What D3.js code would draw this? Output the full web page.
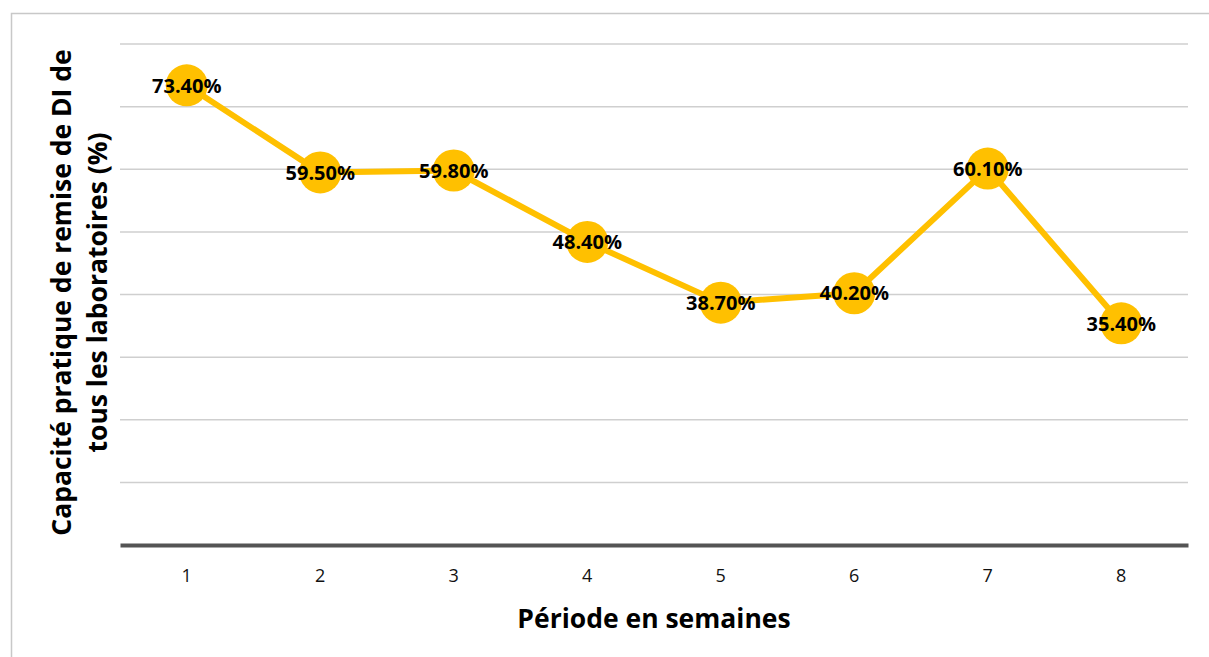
<!DOCTYPE html>
<html>
<head>
<meta charset="utf-8">
<script src="https://cdn.jsdelivr.net/npm/d3@7"></script>
<style>
  body { margin: 0; background: #fff; }
  svg { display: block; font-family: "Open Sans", "Noto Sans", sans-serif; }
</style>
</head>
<body>
<div id="chart"></div>
<script>
// data
const weeks = ['1', '2', '3', '4', '5', '6', '7', '8'];
const capacity = [73.4, 59.5, 59.8, 48.4, 38.7, 40.2, 60.1, 35.4];
const gridTicks = [10, 20, 30, 40, 50, 60, 70, 80];

const W = 1209, H = 657;
const margin = { top: 44, right: 21, bottom: 112, left: 120 };
const width = W - margin.left - margin.right;
const height = H - margin.top - margin.bottom;
const font = '"Open Sans", "Noto Sans", sans-serif';

const svg = d3.select('#chart').append('svg')
    .attr('width', W)
    .attr('height', H);

// outer frame
svg.append('rect')
    .attr('x', 11.5).attr('y', 13.5)
    .attr('width', W).attr('height', H)
    .attr('fill', 'none')
    .attr('stroke', '#c8c8c8')
    .attr('stroke-width', 1.5);

const g = svg.append('g')
    .attr('transform', 'translate(' + margin.left + ',' + margin.top + ')');

const x = d3.scaleBand().domain(weeks).range([0, width]);
const y = d3.scaleLinear().domain([0, 80]).range([height, 0]);

// gridlines
g.append('g').selectAll('line')
    .data(gridTicks)
    .enter().append('line')
    .attr('x1', 0).attr('x2', width)
    .attr('y1', d => y(d)).attr('y2', d => y(d))
    .attr('stroke', '#cfcfcf')
    .attr('stroke-width', 1.5);

// x axis
const xAxis = g.append('g')
    .attr('transform', 'translate(0,' + height + ')')
    .call(d3.axisBottom(x).tickSize(0).tickPadding(24));
xAxis.select('.domain')
    .attr('stroke', '#545454')
    .attr('stroke-width', 4);
xAxis.selectAll('text')
    .attr('font-size', 18)
    .attr('font-family', font)
    .attr('fill', '#111');

const cx = d => x(d) + x.bandwidth() / 2;

// line
g.append('path')
    .datum(capacity)
    .attr('fill', 'none')
    .attr('stroke', '#ffc000')
    .attr('stroke-width', 6)
    .attr('stroke-linejoin', 'round')
    .attr('d', d3.line()
        .x((d, i) => cx(weeks[i]))
        .y(d => y(d)));

// markers
g.append('g').selectAll('circle')
    .data(capacity)
    .enter().append('circle')
    .attr('cx', (d, i) => cx(weeks[i]))
    .attr('cy', d => y(d))
    .attr('r', 21)
    .attr('fill', '#ffc000');

// labels
g.append('g').selectAll('text')
    .data(capacity)
    .enter().append('text')
    .attr('x', (d, i) => cx(weeks[i]))
    .attr('y', d => y(d))
    .attr('dy', '0.36em')
    .attr('text-anchor', 'middle')
    .attr('font-size', 20)
    .attr('font-weight', 'bold')
    .attr('fill', '#000')
    .text(d => d.toFixed(2) + '%');

// axis titles
svg.append('text')
    .attr('x', margin.left + width / 2)
    .attr('y', 628)
    .attr('text-anchor', 'middle')
    .attr('font-size', 26.5)
    .attr('font-weight', 'bold')
    .attr('fill', '#000')
    .text('Période en semaines');

const yTitle = svg.append('text')
    .attr('transform', 'translate(71,' + (margin.top + height / 2 - 2) + ') rotate(-90)')
    .attr('text-anchor', 'middle')
    .attr('font-size', 26.5)
    .attr('font-weight', 'bold')
    .attr('fill', '#000');
yTitle.append('tspan').attr('x', 0).attr('dy', 0).text('Capacité pratique de remise de DI de');
yTitle.append('tspan').attr('x', 0).attr('dy', 36).text('tous les laboratoires (%)');
</script>
</body>
</html>
